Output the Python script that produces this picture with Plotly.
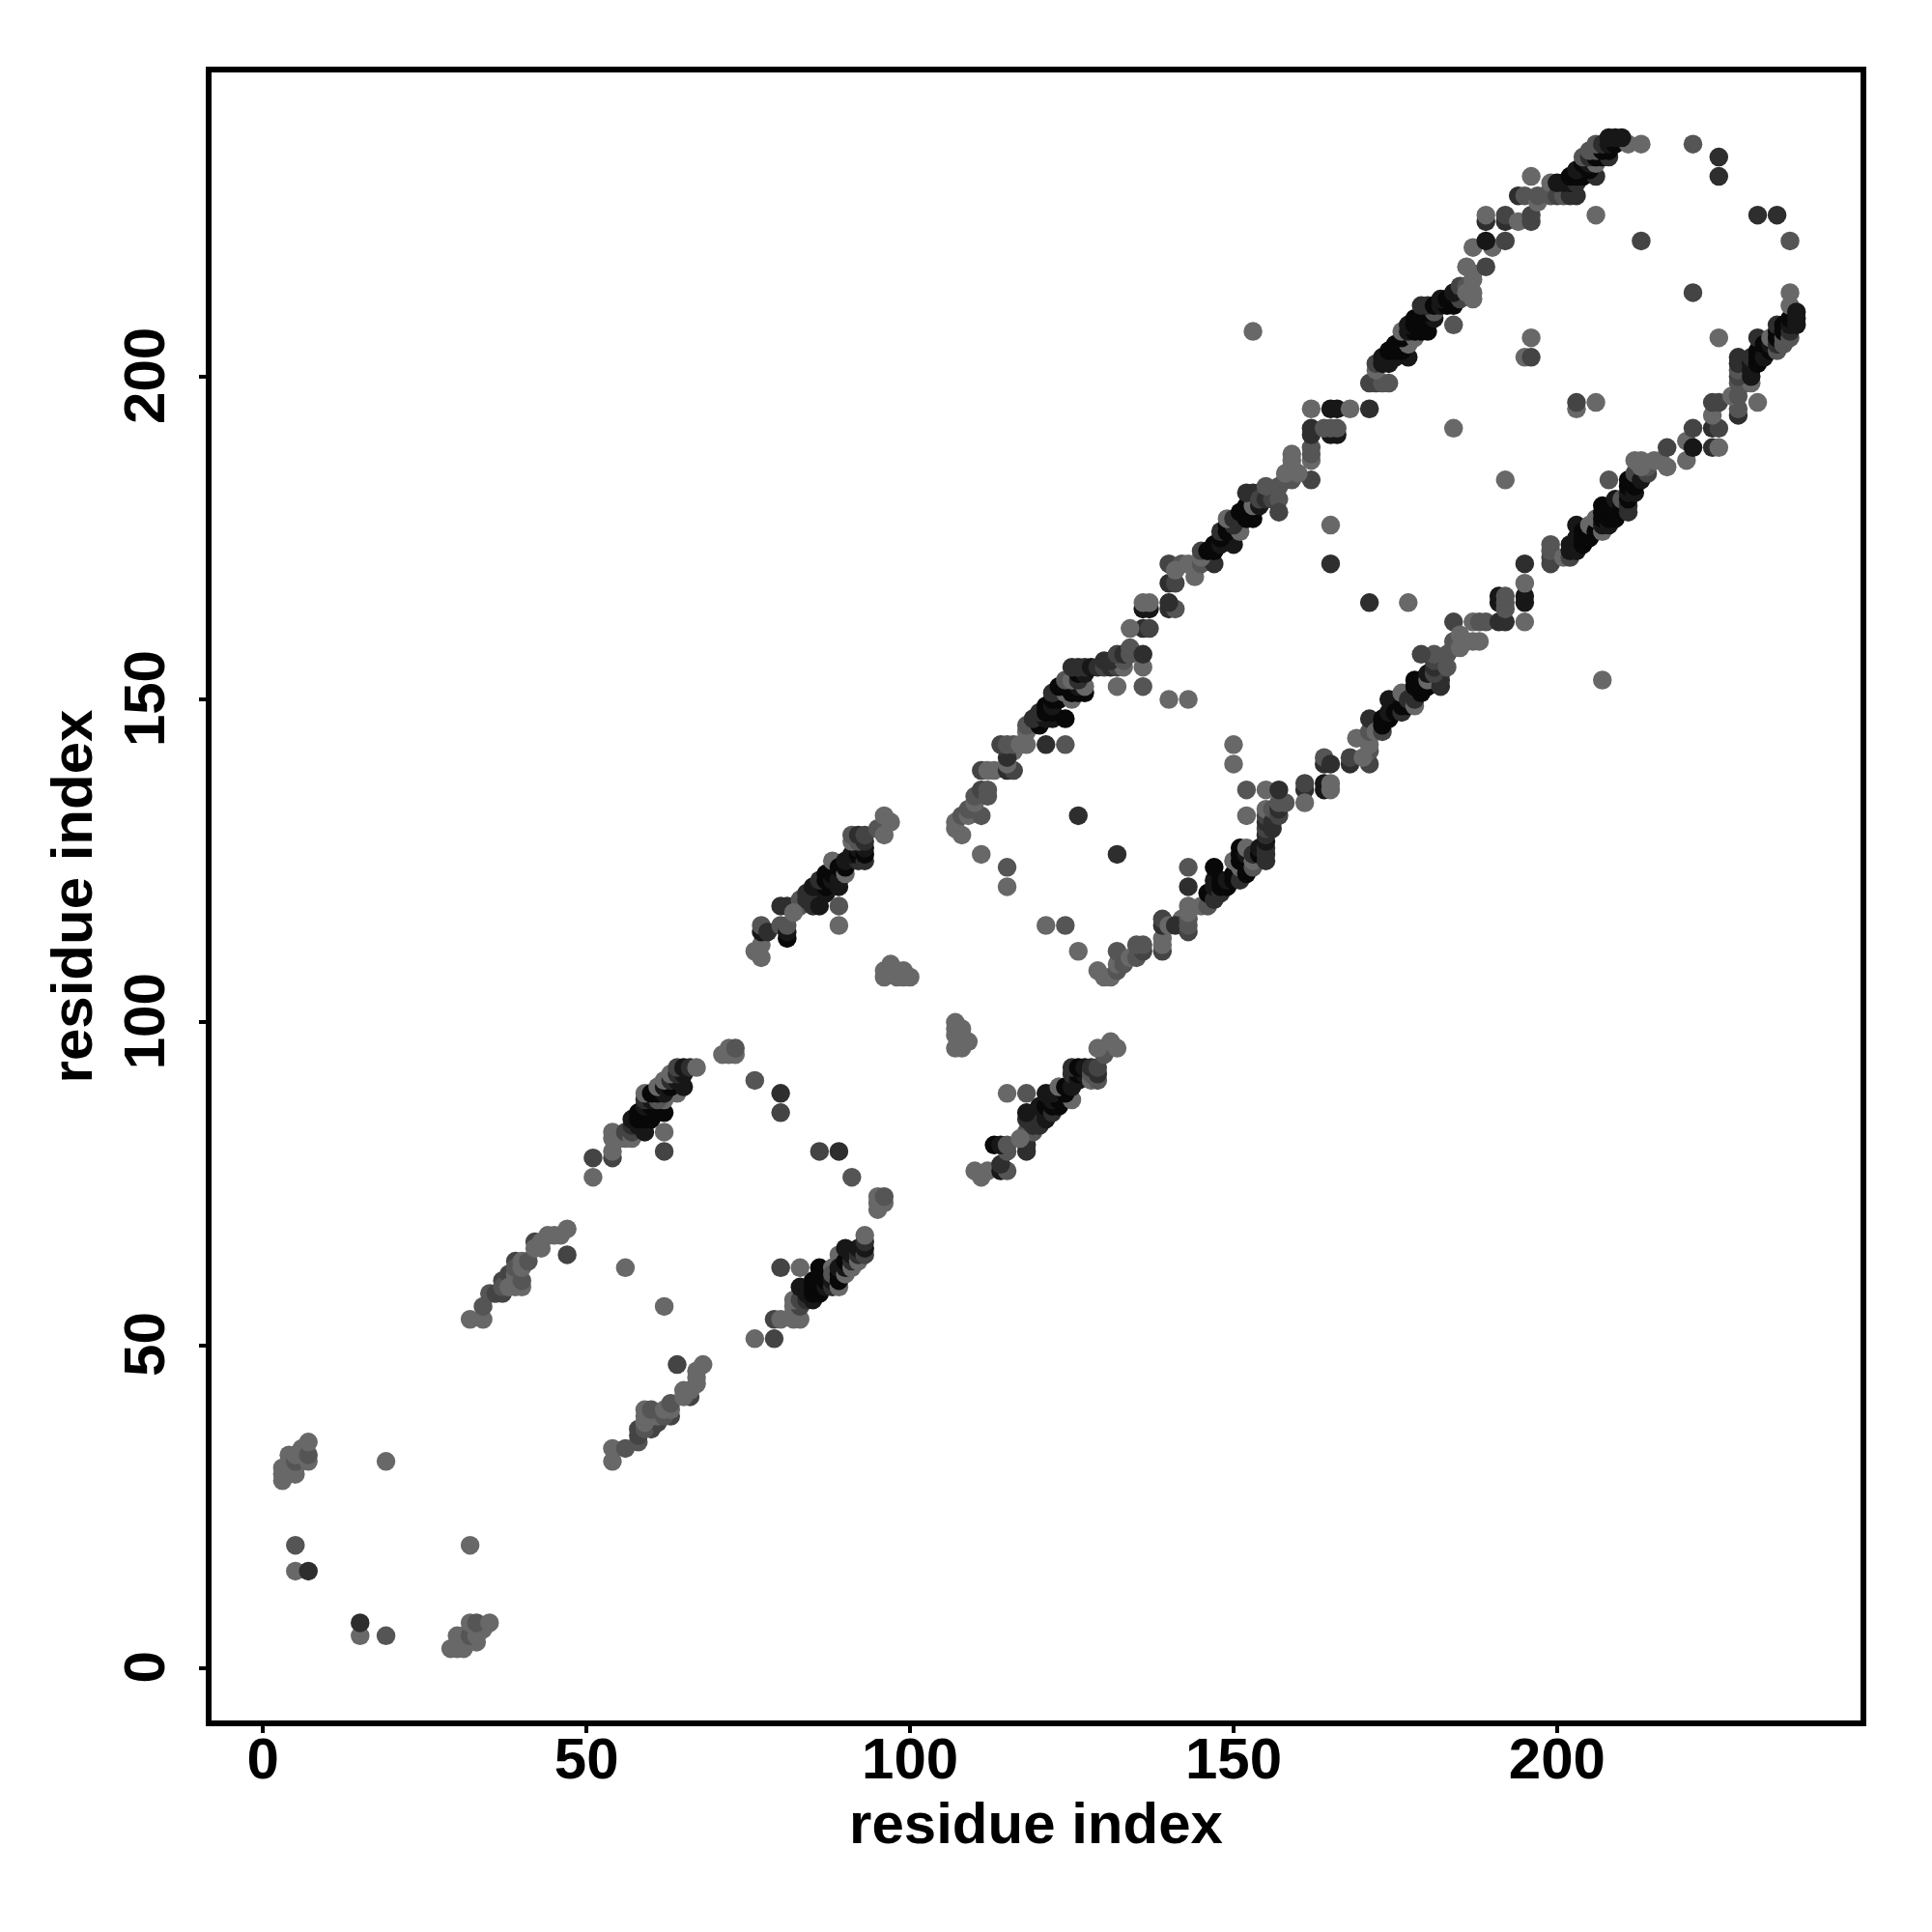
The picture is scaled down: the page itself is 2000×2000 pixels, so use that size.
import plotly.graph_objects as go

shades = {"L": "#686868", "M": "#555555", "D": "#444444", "K": "#2e2e2e", "B": "#171717", "X": "#080808"}

corner_contacts = [
    (29,3,"L"),(30,3,"L"),(31,3,"L"),(31,4,"L"),(33,4,"L"),(30,5,"L"),(31,5,"L"),(32,5,"M"),(33,5,"L"),(34,6,"L"),
    (32,7,"L"),(33,7,"M"),(35,7,"L"),(19,5,"M"),(32,19,"L"),(15,5,"L"),(15,7,"K"),
]
band_a = [
    (54,32,"L"),(54,34,"L"),(56,34,"M"),(58,35,"M"),(58,36,"D"),(58,37,"D"),(60,37,"D"),(59,37,"M"),(61,38,"D"),
    (59,38,"L"),(59,39,"L"),(59,40,"L"),(60,39,"L"),(61,39,"L"),(60,40,"M"),(63,39,"D"),(62,39,"M"),(62,40,"L"),
    (63,40,"L"),(63,41,"M"),(66,42,"D"),(65,42,"L"),(65,43,"L"),(66,43,"L"),(67,44,"L"),(67,45,"L"),(67,46,"L"),
    (68,47,"L"),(64,47,"D"),(62,56,"L"),
]
band_c = [
    (76,51,"L"),(79,51,"D"),(79,54,"D"),(80,54,"L"),(82,54,"L"),(83,54,"L"),(82,55,"L"),(82,56,"L"),(83,56,"D"),
    (82,57,"L"),(83,57,"D"),(84,57,"K"),(83,59,"B"),(85,57,"B"),(84,58,"B"),(85,58,"X"),(85,59,"X"),(85,60,"X"),
    (86,58,"X"),(86,59,"X"),(86,60,"X"),(86,62,"X"),(80,62,"D"),(83,62,"L"),(87,59,"B"),(87,60,"X"),(87,61,"X"),
    (88,62,"L"),(88,59,"K"),(88,60,"B"),(88,61,"M"),(89,59,"L"),(89,64,"L"),(89,60,"X"),(89,61,"X"),(89,62,"B"),
    (90,61,"L"),(90,62,"B"),(90,63,"X"),(90,65,"B"),(91,62,"L"),(91,63,"K"),(91,64,"B"),(92,63,"L"),(92,64,"K"),
    (92,65,"B"),(93,64,"D"),(93,65,"B"),(93,66,"K"),(93,67,"L"),
    (95,71,"L"),(95,72,"L"),(96,72,"L"),(95,73,"L"),(96,73,"M"),
    (91,76,"M"),(89,80,"K"),(86,80,"D"),
]
band_d = [
    (100,107,"L"),(99,107,"L"),(99,108,"L"),(98,107,"L"),(98,108,"L"),(96,107,"L"),(96,108,"L"),(97,109,"L"),
    (111,76,"L"),(110,77,"L"),(112,77,"L"),(114,77,"B"),(115,77,"M"),(114,78,"K"),(115,80,"M"),(118,80,"K"),
    (113,81,"X"),(114,81,"B"),(115,81,"M"),(118,81,"K"),(118,83,"M"),(119,83,"M"),(120,84,"K"),(118,85,"K"),
    (119,84,"K"),(120,85,"K"),(118,86,"B"),(121,85,"B"),(121,86,"B"),(117,82,"L"),(120,87,"B"),(121,87,"X"),
    (122,86,"K"),(122,87,"X"),(123,87,"X"),(122,88,"B"),(123,88,"X"),(125,88,"L"),(121,89,"B"),(122,89,"B"),
    (124,89,"X"),(115,89,"L"),(118,89,"M"),(123,90,"L"),(124,90,"X"),(125,90,"B"),(125,92,"K"),(126,91,"B"),
    (126,92,"X"),(127,92,"B"),(125,93,"K"),(126,93,"X"),(127,93,"B"),(128,91,"L"),(128,92,"M"),(128,93,"K"),
    (129,91,"M"),(129,92,"K"),(129,93,"D"),(130,95,"M"),(129,96,"L"),(132,96,"L"),(131,97,"L"),
]
band_e_low = [
    (129,108,"L"),(130,107,"L"),(131,107,"L"),(132,108,"M"),(132,109,"L"),(133,109,"M"),(132,111,"M"),(134,110,"L"),
    (135,110,"M"),(136,111,"D"),(135,112,"M"),(136,112,"M"),(139,111,"D"),(139,112,"L"),(139,113,"L"),(139,115,"K"),
    (139,116,"D"),(140,115,"L"),(142,116,"L"),(141,115,"K"),(143,114,"D"),(143,115,"M"),(143,116,"M"),(143,117,"L"),
    (143,118,"L"),(143,121,"K"),(143,124,"M"),(145,118,"L"),(146,118,"M"),(146,120,"X"),(147,119,"K"),(147,121,"B"),
    (147,122,"B"),(147,124,"X"),(148,120,"K"),(148,121,"X"),(148,122,"X"),(149,121,"X"),(149,122,"B"),(150,122,"X"),
    (150,123,"X"),(150,125,"L"),(151,122,"K"),(151,124,"L"),(151,125,"X"),(151,126,"X"),(151,127,"X"),(152,123,"X"),
    (152,124,"X"),(152,126,"B"),(152,127,"L"),(153,124,"M"),(153,125,"L"),(153,126,"K"),(154,126,"X"),(154,127,"B"),
    (155,125,"K"),(155,126,"K"),(155,127,"K"),(155,128,"B"),(155,129,"K"),(155,130,"D"),(155,131,"K"),(155,132,"D"),
    (155,133,"L"),(156,130,"K"),(156,131,"K"),(156,133,"M"),(157,132,"D"),(157,133,"K"),(157,134,"M"),(158,134,"M"),
    (152,132,"L"),(152,136,"M"),(155,136,"L"),(157,136,"K"),(161,136,"K"),(161,137,"D"),(161,134,"L"),(164,136,"B"),
    (164,137,"B"),(165,136,"L"),(165,137,"L"),
]
band_e_mid = [
    (164,140,"K"),(164,141,"M"),(165,140,"K"),(168,140,"K"),(168,141,"D"),(171,140,"D"),(171,142,"M"),(170,141,"L"),
    (169,144,"L"),(170,144,"L"),(171,143,"L"),(171,145,"M"),(171,147,"K"),(172,145,"L"),(173,145,"D"),(173,146,"X"),
    (173,147,"X"),(174,147,"X"),(174,148,"B"),(174,150,"B"),(175,148,"X"),(176,148,"K"),(176,149,"X"),(176,151,"L"),
    (177,149,"X"),(177,151,"L"),(177,150,"K"),(178,149,"L"),(178,150,"K"),(178,151,"K"),(178,152,"X"),(178,153,"X"),
    (179,151,"X"),(179,152,"X"),(179,153,"X"),(180,152,"X"),(180,153,"L"),(180,154,"B"),(182,152,"K"),(182,153,"K"),
    (182,154,"K"),(182,155,"K"),(182,156,"B"),(181,154,"D"),(181,155,"K"),(181,156,"D"),(181,157,"M"),(183,155,"M"),
    (183,157,"M"),(184,158,"M"),(184,159,"M"),(184,162,"D"),(185,158,"L"),(185,160,"L"),(186,159,"L"),(187,159,"L"),
    (188,159,"L"),(187,162,"L"),(188,162,"M"),(189,162,"M"),(191,162,"K"),(192,162,"K"),(191,165,"B"),(191,166,"B"),
    (192,164,"M"),(192,165,"M"),(192,166,"M"),(195,165,"B"),(195,166,"B"),(195,162,"L"),(195,168,"L"),(195,171,"K"),
]
band_e_high = [
    (199,171,"D"),(199,172,"D"),(199,173,"M"),(199,174,"M"),(201,172,"L"),(202,172,"D"),(202,173,"B"),(202,174,"B"),
    (203,173,"B"),(203,175,"B"),(203,177,"B"),(204,174,"X"),(204,175,"X"),(204,176,"X"),(205,175,"X"),(205,176,"X"),
    (205,177,"L"),(206,176,"X"),(206,178,"L"),(207,176,"L"),(207,177,"B"),(207,178,"X"),(207,179,"X"),(207,180,"X"),
    (208,177,"B"),(208,178,"X"),(208,179,"X"),(208,184,"M"),(209,178,"X"),(209,179,"X"),(209,181,"B"),(210,180,"X"),
    (210,181,"M"),(211,179,"K"),(211,180,"K"),(211,181,"X"),(211,182,"B"),(211,183,"X"),(211,184,"X"),(212,182,"B"),
    (212,183,"X"),(212,185,"D"),(213,184,"B"),(214,185,"D"),(214,186,"M"),(213,186,"L"),(212,187,"L"),(213,187,"L"),
    (215,187,"L"),(216,187,"L"),(217,186,"L"),(217,189,"D"),(220,187,"L"),(220,190,"L"),(221,189,"B"),(221,192,"D"),
    (224,189,"K"),(225,189,"L"),(224,192,"K"),(225,192,"D"),(224,194,"L"),(224,196,"D"),(225,196,"D"),
    (228,194,"K"),(228,195,"M"),(227,197,"L"),(228,197,"M"),(231,196,"L"),(228,199,"M"),(229,199,"M"),(230,199,"L"),
    (228,200,"D"),(228,201,"M"),(228,202,"K"),(228,203,"K"),(230,200,"B"),(230,201,"B"),(230,202,"B"),(230,203,"K"),
    (231,202,"X"),(231,203,"X"),(231,204,"X"),(231,206,"K"),(232,203,"B"),(232,205,"X"),(233,204,"X"),(233,205,"B"),
    (233,206,"L"),(234,204,"M"),(234,205,"K"),(234,206,"X"),(234,207,"X"),(234,208,"K"),(235,205,"M"),(235,206,"M"),
    (235,207,"X"),(235,208,"X"),(236,206,"M"),(236,207,"K"),(236,208,"B"),(236,209,"X"),(236,211,"L"),(236,213,"L"),
    (237,208,"B"),(237,209,"B"),(237,210,"B"),
]
isolated = [
    (126,111,"L"),(124,115,"M"),(121,115,"L"),(132,126,"K"),(150,140,"L"),(150,143,"L"),(177,165,"L"),
    (171,165,"K"),(179,157,"D"),(192,184,"L"),(203,195,"L"),(203,196,"D"),(206,196,"L"),(207,153,"L"),(225,206,"L"),
    (221,213,"D"),(236,221,"M"),(234,225,"K"),(231,225,"K"),
]
x_ticks = [0, 50, 100, 150, 200]
y_ticks = [0, 50, 100, 150, 200]
axis_title = "residue index"

contacts = corner_contacts + band_a + band_c + band_d + band_e_low + band_e_mid + band_e_high + isolated
xs = [c[0] for c in contacts] + [c[1] for c in contacts]
ys = [c[1] for c in contacts] + [c[0] for c in contacts]
cols = [shades[c[2]] for c in contacts] * 2

font = dict(family="Liberation Sans", size=60, color="black", weight=700)
fig = go.Figure(go.Scatter(x=xs, y=ys, mode="markers", hoverinfo="skip",
                           marker=dict(size=19.5, color=cols, line=dict(width=0))))
common = dict(showgrid=False, zeroline=False, showline=True, mirror=True, linecolor="black", linewidth=6,
              ticks="outside", ticklen=7, tickwidth=3.5, tickcolor="black", tickfont=font, automargin=True)
fig.update_xaxes(range=[-7.96, 246.9], tickvals=x_ticks, ticktext=[str(v) for v in x_ticks], ticklabelstandoff=-25,
                 title=dict(text=axis_title, font=font, standoff=14), **common)
fig.update_yaxes(range=[-8.12, 247.1], tickvals=y_ticks, ticktext=[str(v) for v in y_ticks], tickangle=-90,
                 ticklabelstandoff=12, ticklabelshift=8, title=dict(text=axis_title, font=font, standoff=3), **common)
fig.update_layout(width=2000, height=2000, autosize=False, showlegend=False, plot_bgcolor="white",
                  paper_bgcolor="white", margin=dict(l=211, r=82.3, t=66.7, b=226.7, pad=0))
fig.write_html("out.html")
